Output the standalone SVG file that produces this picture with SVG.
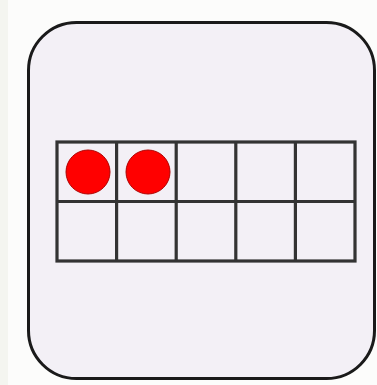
<svg xmlns="http://www.w3.org/2000/svg" width="377" height="385" viewBox="0 0 377 385">
  <style>
    .cell { fill: none; stroke: #333333; stroke-width: 3.2; }
    .dot { fill: #ff0000; stroke: #b00000; stroke-width: 1; }
  </style>
  <rect x="0" y="0" width="377" height="385" fill="#fcfcfb"/>
  <rect x="0" y="0" width="8" height="385" fill="#f4f5f0"/>
  <g id="card">
    <rect x="28.5" y="22.5" width="346" height="356" rx="48" ry="48" fill="#f3f0f6" stroke="#1a1a1a" stroke-width="3"/>
  </g>
  <g id="frame">
    <rect class="cell" x="57" y="142" width="298" height="119"/>
    <line class="cell" x1="57" y1="201.5" x2="355" y2="201.5"/>
    <line class="cell" x1="116.6" y1="142" x2="116.6" y2="261"/>
    <line class="cell" x1="176.2" y1="142" x2="176.2" y2="261"/>
    <line class="cell" x1="235.8" y1="142" x2="235.8" y2="261"/>
    <line class="cell" x1="295.4" y1="142" x2="295.4" y2="261"/>
  </g>
  <g id="counters">
    <circle class="dot" cx="88" cy="172" r="22"/>
    <circle class="dot" cx="148" cy="172" r="22"/>
  </g>
</svg>
